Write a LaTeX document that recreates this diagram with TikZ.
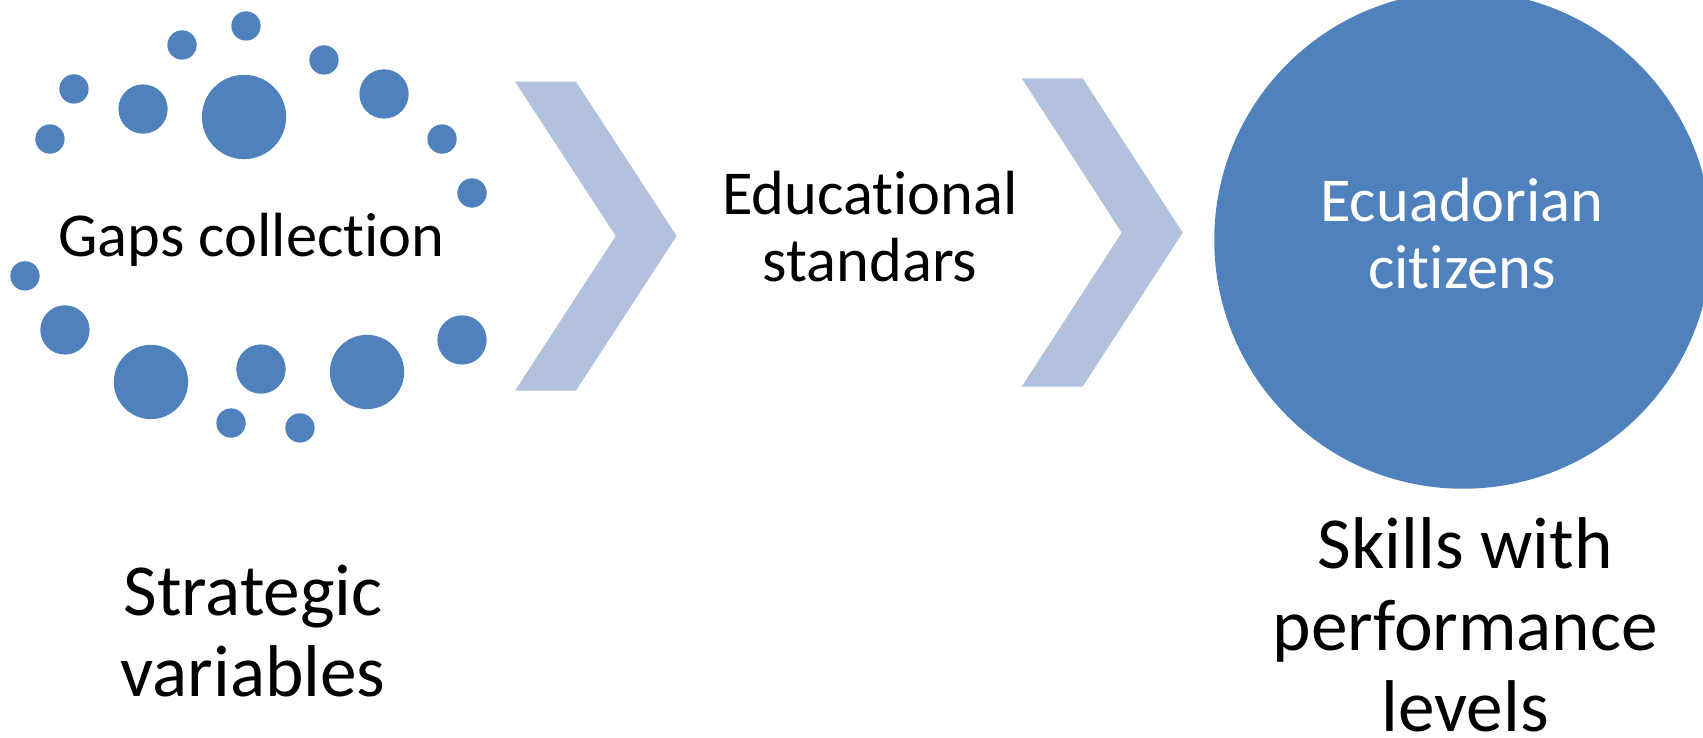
\documentclass[tikz,border=0pt]{standalone}
\usepackage{fontspec}
\setmainfont{Carlito}[Ligatures = NoCommon]
\usepackage{tikz}
\usetikzlibrary{positioning}
\definecolor{dotblue}{HTML}{4F81BD}
\definecolor{chevblue}{HTML}{B2C2DE}
\tikzset{dot/.style = {fill = dotblue}}
\tikzset{chev/.style = {fill = chevblue}}
\tikzset{lbl/.style = {anchor = base, align = center, inner sep = 0pt, font = \fontsize{28.75}{30.75}\selectfont}}
\tikzset{biglbl/.style = {lbl, font = \fontsize{33.75}{37.5}\selectfont}}

\begin{document}
\begin{tikzpicture}[x = 0.5pt, y = -0.5pt]
\useasboundingbox (0, 0) rectangle (1568, 679);
% gaps
\fill [dot] (226.5, 23.9) circle (13.5);
\fill [dot] (167.6, 41.4) circle (13.5);
\fill [dot] (298.3, 55.2) circle (13.5);
\fill [dot] (68.1, 81.9) circle (13.5);
\fill [dot] (131.7, 100.4) circle (22.7);
\fill [dot] (224.7, 107.7) circle (38.8);
\fill [dot] (353.6, 86.5) circle (22.7);
\fill [dot] (46, 128) circle (13.5);
\fill [dot] (407, 128) circle (13.5);
\fill [dot] (434.6, 177.7) circle (13.5);
\fill [dot] (23, 254) circle (13.5);
\fill [dot] (59.8, 303.8) circle (22.7);
\fill [dot] (139, 351.7) circle (34.2);
\fill [dot] (240.3, 339.8) circle (22.7);
\fill [dot] (337.9, 342.5) circle (34.2);
\fill [dot] (425.4, 313) circle (22.7);
\fill [dot] (212.7, 389.5) circle (13.5);
\fill [dot] (276.2, 394) circle (13.5);
% chevrons
\fill [chev] (474.2, 75.2) -- (530.3, 75.2) -- (623, 217.3) -- (530.3, 359.7) -- (474.2, 359.7) -- (566.9, 217.3) -- cycle;
\fill [chev] (940.7, 72.1) -- (996.8, 72.1) -- (1089, 214.2) -- (996.8, 356) -- (940.7, 356) -- (1032.8, 214.2) -- cycle;
% citizens
\fill [dot] (1347, 221) circle (229);
\node [lbl] (G) at (231.7, 236.3) {Gaps collection};
\node [lbl] (E) at (801, 259.3) {Educational\\standars};
\node [lbl, text = white] (C) at (1346, 265.5) {Ecuadorian\\citizens};
\node [biglbl] (S) at (233, 641.4) {Strategic\\variables};
\node [biglbl] (K) at (1349, 673.5) {Skills with\\performance\\levels};
\end{tikzpicture}
\end{document}
